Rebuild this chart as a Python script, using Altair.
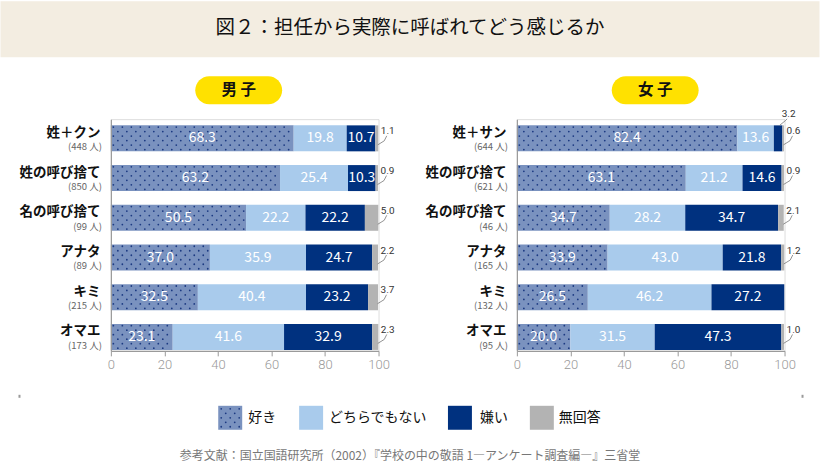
import altair as alt
import pandas as pd

# ---------------- data ----------------
categories = ["好き", "どちらでもない", "嫌い", "無回答"]
colors = ["#7a92bf", "#a9cbec", "#00317f", "#b3b3b3"]
dot_color = "#1c3a82"

boy_names = ["姓＋クン", "姓の呼び捨て", "名の呼び捨て", "アナタ", "キミ", "オマエ"]
boy_counts = ["(448 人)", "(850 人)", "(99 人)", "(89 人)", "(215 人)", "(173 人)"]
boy_like = [68.3, 63.2, 50.5, 37.0, 32.5, 23.1]
boy_neutral = [19.8, 25.4, 22.2, 35.9, 40.4, 41.6]
boy_dislike = [10.7, 10.3, 22.2, 24.7, 23.2, 32.9]
boy_none = [1.1, 0.9, 5.0, 2.2, 3.7, 2.3]

girl_names = ["姓＋サン", "姓の呼び捨て", "名の呼び捨て", "アナタ", "キミ", "オマエ"]
girl_counts = ["(644 人)", "(621 人)", "(46 人)", "(165 人)", "(132 人)", "(95 人)"]
girl_like = [82.4, 63.1, 34.7, 33.9, 26.5, 20.0]
girl_neutral = [13.6, 21.2, 28.2, 43.0, 46.2, 31.5]
girl_dislike = [3.2, 14.6, 34.7, 21.8, 27.2, 47.3]
girl_none = [0.6, 0.9, 2.1, 1.2, 0.0, 1.0]

panel_titles = ["男 子", "女 子"]
title_text = "図２：担任から実際に呼ばれてどう感じるか"
source_text = "参考文献：国立国語研究所（2002）『学校の中の敬語 1―アンケート調査編―』三省堂"
x_ticks = [0, 20, 40, 60, 80, 100]

# ---------------- layout constants ----------------
W, H = 268, 232
PXU = 100.0 / W          # data units per pixel
HB = 13.0                # half bar thickness in px
FONT = "Noto Sans CJK JP"
color_scale = alt.Scale(domain=categories, range=colors)
XS = alt.Scale(domain=[0, 100], nice=False, zero=True)


def Y(names):
    return alt.Y("name:N", sort=names, title=None,
                 scale=alt.Scale(paddingInner=0.346, paddingOuter=0.09, align=0.87),
                 axis=alt.Axis(labels=False, ticks=False, domainColor="#9a9a9a",
                               domainWidth=1.2, title=None, zindex=1))


def X(field):
    return alt.X(field, scale=XS, title=None)


def build(names, counts, series):
    seg = []
    for i, n in enumerate(names):
        start = 0.0
        for k, cat in enumerate(categories):
            v = series[k][i]
            seg.append(dict(name=n, k=k, cat=cat, value=v, x0=start, x1=start + v,
                            mid=start + v / 2, label=f"{v:.1f}"))
            start += v
    seg = pd.DataFrame(seg)
    rows = pd.DataFrame(dict(name=names, count=counts))

    is_in = (seg.k < 3) & (seg.value >= 5)
    inside = seg[is_in].copy()
    outside = seg[(seg.value > 0) & ~is_in]

    # texture dots inside the "好き" segments
    dots = []
    for _, r in seg[seg.k == 0].iterrows():
        lim = r.value / PXU - 1.5
        for j in range(6):
            oy = HB - 11.25 + 4.5 * j
            px = 2.5 + (j % 2) * 4.5
            while px < lim:
                dots.append(dict(name=r["name"], dx=px * PXU, dy=oy))
                px += 9.0
    dots = pd.DataFrame(dots)

    # labels outside bars, with leader lines
    olab, lines = [], []
    for idx, r in outside.iterrows():
        if r.k == 3:
            base = r.x1
            olab.append(dict(name=r["name"], tx=base + 9.5 * PXU, ty=HB - 7.0, label=r.label))
            pts = [(-0.5, 6.5), (6.0, 2.5), (8.5, -2.5)]
        else:
            base = r.mid
            olab.append(dict(name=r["name"], tx=base + 10.5 * PXU, ty=HB - 24.5, label=r.label))
            pts = [(1.5, -13.0), (7.0, -17.5), (9.0, -19.5)]
        for o, (ox, oy) in enumerate(pts):
            lines.append(dict(name=r["name"], seg=str(idx), o=o, lx=base + ox * PXU, ly=HB + oy))
    return seg, rows, inside, dots, pd.DataFrame(olab), pd.DataFrame(lines)


def panel(names, counts, series, ptitle, pill_x, extra_layers):
    seg, rows, inside, dots, olab, lines = build(names, counts, series)
    y = Y(names)

    bars = alt.Chart(seg).mark_bar(opacity=1).encode(
        x=alt.X("x0:Q", scale=XS, title=None,
                axis=alt.Axis(values=x_ticks, grid=False, tickSize=5, tickColor="#9a9a9a",
                              domainColor="#9a9a9a", domainWidth=1.2, labelColor="#999999",
                              labelFontSize=13, labelFont="Roboto", labelFontWeight=300,
                              labelPadding=3, labelFlush=False, labelOverlap=False, format="d",
                              zindex=1)),
        x2="x1:Q",
        y=y,
        color=alt.Color("cat:N", scale=color_scale, legend=None),
    )
    dot_layer = alt.Chart(dots).mark_circle(size=3.2, color=dot_color, opacity=1).encode(
        x=X("dx:Q"), y=y, yOffset=alt.YOffset("dy:Q", scale=None))
    in_text = alt.Chart(inside).mark_text(color="white", fontSize=14, font=FONT).encode(
        x=X("mid:Q"), y=y, text="label:N")
    name_text = alt.Chart(rows).mark_text(align="right", fontSize=13.5, fontWeight="bold",
                                          font=FONT, color="#111111", yOffset=-5.5).encode(
        x=alt.value(-10.5), y=y, text="name:N")
    cnt_text = alt.Chart(rows).mark_text(align="right", fontSize=9.5, font=FONT,
                                         color="#666666", yOffset=9).encode(
        x=alt.value(-9), y=y, text="count:N")
    line_layer = alt.Chart(lines).mark_line(color="#777777", strokeWidth=0.8).encode(
        x=X("lx:Q"), y=y, yOffset=alt.YOffset("ly:Q", scale=None),
        detail="seg:N", order="o:Q")
    out_text = alt.Chart(olab).mark_text(fontSize=10, font="Roboto", color="#333333").encode(
        x=X("tx:Q"), y=y, yOffset=alt.YOffset("ty:Q", scale=None), text="label:N")

    pill = alt.Chart(rows.head(1)).mark_rect(color="#ffe100", cornerRadius=14).encode(
        x=alt.value(pill_x), x2=alt.value(pill_x + 87), y=alt.value(-43), y2=alt.value(-15))
    pill_text = alt.Chart(rows.head(1)).mark_text(
        text=ptitle, fontSize=15.5, fontWeight="bold", font=FONT, color="#111111").encode(
        x=alt.value(pill_x + 43.5), y=alt.value(-29))

    return alt.layer(*extra_layers, pill, pill_text, bars, dot_layer, in_text, name_text,
                     cnt_text, line_layer, out_text).properties(width=W, height=H)


# ---------------- decorations for the whole picture (placed in left panel) ----------------
OX, OY = 110.5, 118.0   # left plot origin on the page
one = pd.DataFrame({"a": [0]})

frame = alt.Chart(one).mark_rect(color="white", opacity=0).encode(
    x=alt.value(-OX), x2=alt.value(820 - OX), y=alt.value(-OY), y2=alt.value(470 - OY))
header = alt.Chart(one).mark_rect(color="#f3ede1").encode(
    x=alt.value(-OX), x2=alt.value(820 - OX), y=alt.value(-OY), y2=alt.value(56 - OY))
title = alt.Chart(one).mark_text(text=title_text, fontSize=19.5, fontWeight="normal", font=FONT,
                                  color="#111111").encode(
    x=alt.value(410 - OX), y=alt.value(27 - OY))
footer = alt.Chart(one).mark_text(text=source_text, fontSize=12, font=FONT,
                                   color="#777777").encode(
    x=alt.value(410 - OX), y=alt.value(455 - OY))
tiny_l = alt.Chart(one).mark_rect(color="#9a9a9a").encode(
    x=alt.value(18 - OX), x2=alt.value(20 - OX), y=alt.value(394 - OY), y2=alt.value(397 - OY))
tiny_r = alt.Chart(one).mark_rect(color="#9a9a9a").encode(
    x=alt.value(802 - OX), x2=alt.value(804 - OX), y=alt.value(394 - OY), y2=alt.value(397 - OY))

leg = pd.DataFrame({"cat": categories})
leg["sx"] = [(p - OX) * PXU for p in [218, 299, 448, 530]]
leg["sx2"] = leg["sx"] + 24 * PXU
leg["tx"] = [(p - OX) * PXU for p in [248, 329, 480, 559]]
leg_sw = alt.Chart(leg).mark_rect().encode(
    x=X("sx:Q"), x2="sx2:Q", y=alt.value(405 - OY), y2=alt.value(429 - OY),
    color=alt.Color("cat:N", scale=color_scale, legend=None))
leg_tx = alt.Chart(leg).mark_text(align="left", fontSize=14, font=FONT, color="#111111").encode(
    x=X("tx:Q"), y=alt.value(417 - OY), text="cat:N")
leg_dot_layers = []
for j in range(5):
    xs = []
    px = 3 + (j % 2) * 4.5
    while px < 23:
        xs.append((218 - OX + px) * PXU)
        px += 9
    leg_dot_layers.append(
        alt.Chart(pd.DataFrame({"px": xs})).mark_circle(size=3.2, color=dot_color, opacity=1)
        .encode(x=X("px:Q"), y=alt.value(405 - OY + 3 + 4.5 * j)))

left = panel(boy_names, boy_counts, [boy_like, boy_neutral, boy_dislike, boy_none],
             panel_titles[0], 195 - OX,
             [frame, header, title, footer, tiny_l, tiny_r, leg_sw, *leg_dot_layers, leg_tx])
right = panel(girl_names, girl_counts, [girl_like, girl_neutral, girl_dislike, girl_none],
              panel_titles[1], 612 - 517, [])

chart = alt.hconcat(left, right, spacing=138.5, bounds="flush").resolve_scale(
    x="independent", y="independent", color="shared"
).properties(padding=0, background="white").configure_view(stroke=None).configure(font=FONT)

chart.save("out.html", embed_options={"renderer": "svg", "actions": False})
